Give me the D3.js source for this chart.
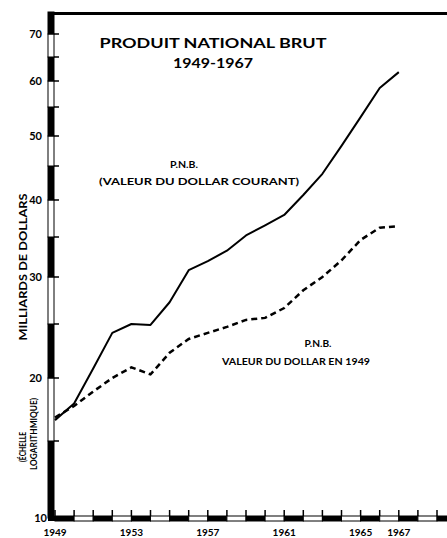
<!DOCTYPE html>
<html><head><meta charset="utf-8">
<script src="https://cdn.jsdelivr.net/npm/d3@7"></script>
<style>
body{margin:0;background:#fff}
svg{display:block}
text{font-family:Lato,'Open Sans',sans-serif;font-weight:700;fill:#000}
</style>
</head><body><svg id="c" width="447" height="538"></svg>
<script>
// ---- data ----
const years = [1949,1950,1951,1952,1953,1954,1955,1956,1957,1958,1959,1960,1961,1962,1963,1964,1965,1966,1967];
const gnpCurrent  = [16.5,17.8,20.8,24.1,25.0,24.9,27.2,30.8,31.9,33.2,35.2,36.5,37.9,40.7,43.8,48.3,53.2,58.6,61.8];
const gnpConstant = [16.7,17.6,18.8,20.0,20.9,20.3,22.2,23.5,24.1,24.7,25.4,25.6,26.6,28.5,30.0,32.0,34.6,36.2,36.4];
const yTicks = [10,15,20,25,30,35,40,45,50,55,60,65,70];
const yTickLabels = [10,20,30,40,50,60,70];
const xTicks = d3.range(1949,1970);
const xTickLabels = [1949,1953,1957,1961,1965,1967];
const title = "PRODUIT NATIONAL BRUT";
const subtitle = "1949-1967";

// ---- scales ----
const svg = d3.select("#c");
const x = d3.scaleLinear().domain([1949,1969]).range([55,437]);
// hand-drawn logarithmic axis: piecewise log scale calibrated to the drawn ticks
const y = d3.scaleLog().domain(yTicks).range([518,441,378,324,277,237,200,166,136,107,81,57,34]);

const barX = 48, barW = 6, topY = 12, baseY = 516, baseH = 5, rightX = 447;

// top border
svg.append("line").attr("x1",barX).attr("x2",rightX).attr("y1",topY+1.5).attr("y2",topY+1.5)
  .attr("stroke","#000").attr("stroke-width",3);

// y bar segments
const ySeg = yTicks.slice(0,-1).map((v,i)=>({a:v,b:yTicks[i+1],i}));
svg.append("g").selectAll("rect").data(ySeg).join("rect")
  .attr("x",barX).attr("width",barW)
  .attr("y",d=>y(d.b)).attr("height",d=>y(d.a)-y(d.b))
  .attr("fill",d=>d.i%2===0?"#000":"#fff").attr("stroke","#000").attr("stroke-width",1);
svg.append("rect").attr("x",barX).attr("width",barW).attr("y",topY).attr("height",y(70)-topY)
  .attr("fill","#000").attr("stroke","#000");

// y ticks
svg.append("g").selectAll("line").data(yTicks).join("line")
  .attr("x1",barX+barW).attr("x2",barX+barW+5).attr("y1",d=>y(d)).attr("y2",d=>y(d))
  .attr("stroke","#000").attr("stroke-width",1.5);
svg.append("g").selectAll("text").data(yTickLabels).join("text")
  .attr("x",d=>d===10?47:42).attr("y",d=>y(d)+4).attr("text-anchor","end")
  .attr("font-size",11).text(d=>d);

// x bar segments
const xSeg = xTicks.map((v,i)=>({x0:x(v),x1:i<xTicks.length-1?x(xTicks[i+1]):rightX,i}));
svg.append("g").selectAll("rect").data(xSeg).join("rect")
  .attr("x",d=>d.x0).attr("width",d=>d.x1-d.x0).attr("y",baseY).attr("height",baseH)
  .attr("fill",d=>d.i%2===0?"#000":"#fff").attr("stroke","#000").attr("stroke-width",1);
svg.append("rect").attr("x",barX).attr("width",x(1949)-barX).attr("y",baseY).attr("height",baseH).attr("fill","#000");
svg.append("g").selectAll("line").data(xTicks).join("line")
  .attr("x1",d=>x(d)).attr("x2",d=>x(d)).attr("y1",baseY).attr("y2",baseY-6)
  .attr("stroke","#000").attr("stroke-width",1.5);
svg.append("g").selectAll("text").data(xTickLabels).join("text")
  .attr("x",d=>x(d)).attr("y",536).attr("text-anchor","middle").attr("font-size",10).text(d=>d);

// lines
const line = d3.line().x(d=>x(d[0])).y(d=>y(d[1]));
svg.append("path").datum(years.map((yr,i)=>[yr,gnpCurrent[i]])).attr("d",line)
  .attr("fill","none").attr("stroke","#000").attr("stroke-width",2).attr("stroke-linejoin","round");
svg.append("path").datum(years.map((yr,i)=>[yr,gnpConstant[i]])).attr("d",line)
  .attr("fill","none").attr("stroke","#000").attr("stroke-width",2.5).attr("stroke-dasharray","6,4");

// titles
svg.append("text").attr("x",213).attr("y",48).attr("text-anchor","middle").attr("font-size",14)
  .attr("textLength",227).attr("lengthAdjust","spacingAndGlyphs").text(title);
svg.append("text").attr("x",213).attr("y",68).attr("text-anchor","middle").attr("font-size",14)
  .attr("textLength",80).attr("lengthAdjust","spacingAndGlyphs").text(subtitle);

// series labels
function lab(t,cx,cy,len,fs){
  const e = svg.append("text").attr("x",cx).attr("y",cy).attr("text-anchor","middle").attr("font-size",fs||10).text(t);
  if(len) e.attr("textLength",len).attr("lengthAdjust","spacingAndGlyphs");
}
lab("P.N.B.",184,168,28);
lab("(VALEUR DU DOLLAR COURANT)",199,185,200);
lab("P.N.B.",318,347,27);
lab("VALEUR DU DOLLAR EN 1949",296,365,148);

// y axis titles
function vlab(t,bx,cy,len,fs){
  svg.append("text").attr("transform",`translate(${bx},${cy}) rotate(-90)`).attr("text-anchor","middle")
    .attr("font-size",fs).attr("textLength",len).attr("lengthAdjust","spacingAndGlyphs").text(t);
}
vlab("MILLIARDS DE DOLLARS",26.5,267,147,12);
vlab("(ÉCHELLE",26,447,30,10);
vlab("LOGARITHMIQUE)",37,434,72,10);
</script></body></html>
